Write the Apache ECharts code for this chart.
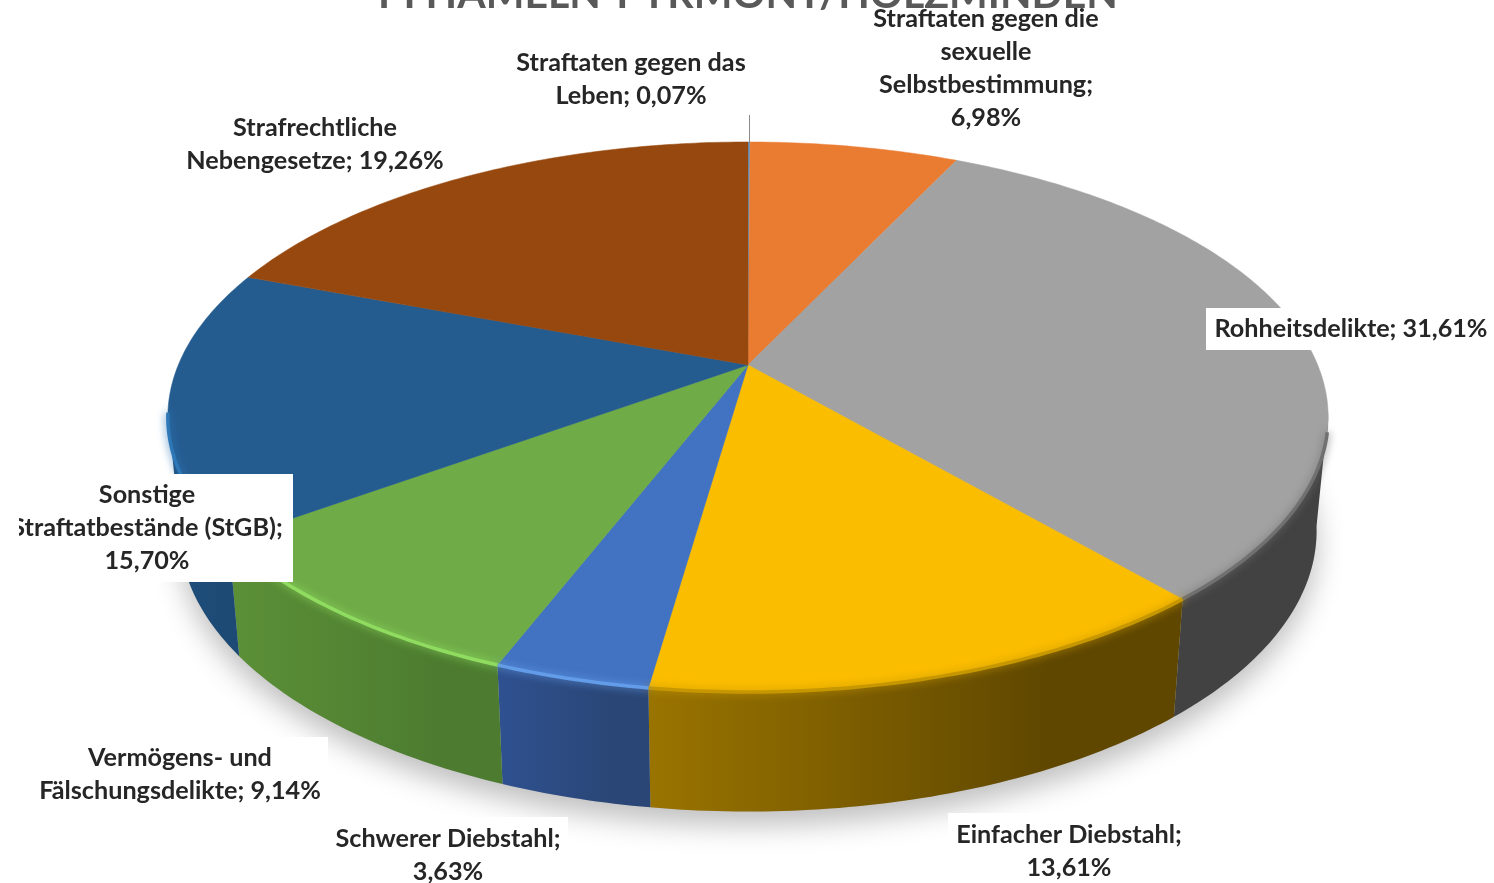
<!DOCTYPE html>
<html><head><meta charset="utf-8">
<script src="https://cdn.jsdelivr.net/npm/echarts@6/dist/echarts.min.js"></script>
<style>html,body{margin:0;background:#fff}#main{width:1494px;height:883px;filter:blur(0.7px)}</style>
</head><body><div id="main"></div>
<script>
const categories = ['Straftaten gegen das Leben','Straftaten gegen die sexuelle Selbstbestimmung','Rohheitsdelikte','Einfacher Diebstahl','Schwerer Diebstahl','Vermögens- und Fälschungsdelikte','Sonstige Straftatbestände (StGB)','Strafrechtliche Nebengesetze'];
const values = [0.07,6.98,31.61,13.61,3.63,9.14,15.70,19.26];
const labelTexts = ['Straftaten gegen das\nLeben; 0,07%','Straftaten gegen die\nsexuelle\nSelbstbestimmung;\n6,98%','Rohheitsdelikte; 31,61%','Einfacher Diebstahl;\n13,61%','Schwerer Diebstahl;\n3,63%','Vermögens- und\nFälschungsdelikte; 9,14%','Sonstige\nStraftatbestände (StGB);\n15,70%','Strafrechtliche\nNebengesetze; 19,26%'];
const titleText = 'PI HAMELN-PYRMONT/HOLZMINDEN';

const topColors = ['#5b9bd5','#ea7c32','#a2a2a2','#fbbd00','#4272c2','#6fab47','#255c90','#97480e'];
const sideColors = [['#3f6f9c','#3f6f9c'],['#8a4a1c','#8a4a1c'],['#424242','#424242'],['#9a7400','#5f4700'],['#2f5190','#2a4676'],['#5c9037','#4d7c30'],['#1f4f7c','#1d4a75'],['#5e2c08','#5e2c08']];
const rimColors = [null,null,'#707070','#c79700','#639ce8','#8fdc60','#2e78b8',null];
const labelCenters = [[631,79],[986,68],[1351,329],[1069,851],[448,855],[180,774],[147,528],[315,144]];
const labelBoxes = [[1206,308,288,42],[20,474,273,108],[30,737,298,70],[325,817,243,66],[948,813,243,70]];

const cx=748, cy=365, B=569.7, A=196.2, K=0.189;
const sideFrom=100, sideTo=260;
function project(t){const r=t*Math.PI/180,u=Math.sin(r),v=-Math.cos(r),d=1-K*v;return [cx+B*u/d,(cy+A*v)/d];}
function lower(p){return [cx+(p[0]-cx)*0.98, cy+(p[1]-cy)*1.02+113];}
function arc(a,b){const n=Math.max(2,Math.ceil(Math.abs(b-a)/0.8)),o=[];for(let i=0;i<=n;i++)o.push(project(a+(b-a)*i/n));return o;}
const startAngles=[];values.reduce((s,v,i)=>{startAngles[i]=s;return s+v;},0);
const seriesData=values.map((v,i)=>({name:categories[i],value:[i,startAngles[i]*3.6,(startAngles[i]+v)*3.6]}));

function shadowItem(params){
  if(params.dataIndex!==0) return {type:'group',children:[]};
  const pts=arc(0,360).map(lower);
  return {type:'polygon',shape:{points:pts},style:{fill:'#bbb',shadowColor:'rgba(0,0,0,0.25)',shadowBlur:28,shadowOffsetY:14}};
}
function sideItem(params,api){
  const i=api.value(0),a=Math.max(api.value(1),sideFrom),b=Math.min(api.value(2),sideTo);
  if(b<=a) return {type:'group',children:[]};
  const t=arc(a,b),pts=t.concat(t.map(lower).reverse());
  return {type:'polygon',shape:{points:pts},style:{fill:{type:'linear',x:0,y:0,x2:1,y2:0,colorStops:[{offset:0,color:sideColors[i][0]},{offset:0.75,color:sideColors[i][1]},{offset:1,color:sideColors[i][1]}]}}};
}
function topItem(params,api){
  const i=api.value(0),a=api.value(1),b=api.value(2);
  return {type:'polygon',shape:{points:[[cx,cy]].concat(arc(a,b))},style:{fill:topColors[i],stroke:topColors[i],lineWidth:0.5}};
}
function rimItem(params,api){
  const i=api.value(0); if(!rimColors[i]) return {type:'group',children:[]};
  const a=Math.max(api.value(1),104),b=Math.min(api.value(2),260);
  if(b<=a) return {type:'group',children:[]};
  return {type:'polyline',shape:{points:arc(a,b)},style:{fill:'none',stroke:rimColors[i],lineWidth:3.5,shadowColor:rimColors[i],shadowBlur:8}};
}
const mk=(fn,z)=>({type:'custom',coordinateSystem:'none',silent:true,animation:false,z:z,renderItem:fn,data:seriesData});
const font='Lato, Carlito, sans-serif';
const graphics=[
  {type:'text',z:1,x:748,y:15,style:{text:titleText,font:'bold 41px '+font,fill:'#595959',align:'center',verticalAlign:'bottom'}},
  ...labelBoxes.map(b=>({type:'rect',z:50,shape:{x:b[0],y:b[1],width:b[2],height:b[3]},style:{fill:'#fff'}})),
  {type:'line',z:50,shape:{x1:749.5,y1:115,x2:749.5,y2:143},style:{stroke:'#8c8c8c',lineWidth:1}},
  ...labelTexts.map((t,i)=>({type:'text',z:60,x:labelCenters[i][0],y:labelCenters[i][1],style:{text:t,font:'bold 25.2px '+font,lineHeight:33,fill:'#262626',align:'center',verticalAlign:'middle'}})),
  {type:'rect',z:70,shape:{x:0,y:505,width:19,height:45},style:{fill:'#fff'}}
];
const chart=echarts.init(document.getElementById('main'),null,{renderer:'canvas'});
chart.setOption({animation:false,backgroundColor:'#fff',graphic:{elements:graphics},
  series:[mk(shadowItem,2),mk(sideItem,3),mk(topItem,4),mk(rimItem,5)]});
</script></body></html>
